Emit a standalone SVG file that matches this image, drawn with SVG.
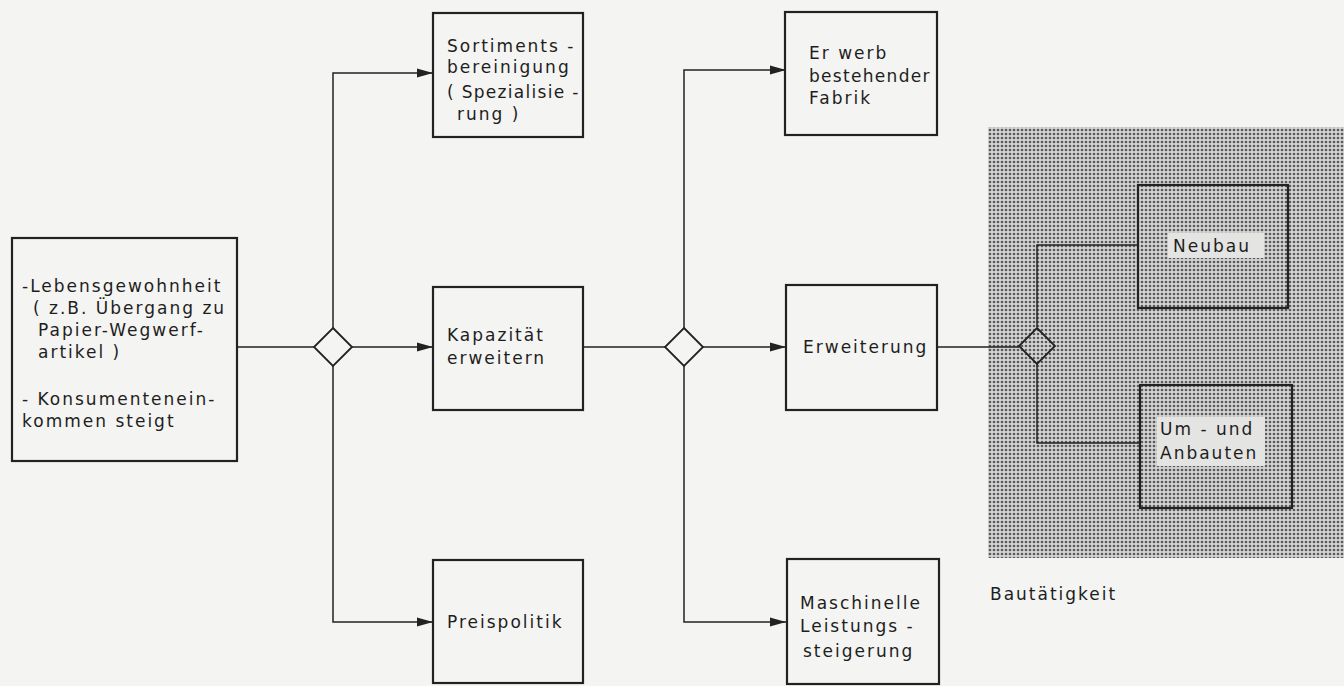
<svg xmlns="http://www.w3.org/2000/svg" width="1344" height="686" viewBox="0 0 1344 686">
<style>
.box{fill:none;stroke:#222;stroke-width:2.2}
.dia{fill:#f4f4f2;stroke:#222;stroke-width:1.8}
.con{fill:none;stroke:#222;stroke-width:1.5}
.hl{fill:#e4e4e2}
.tight{letter-spacing:1.3px}
text{font-family:"DejaVu Sans","Liberation Sans",sans-serif;font-size:17px;fill:#1e1e1e;letter-spacing:2px}
</style>
<defs>
<marker id="arr" viewBox="0 0 16 10" refX="16" refY="5" markerWidth="16" markerHeight="10" markerUnits="userSpaceOnUse" orient="auto">
<path d="M0,0.5 L16,5 L0,9.5 Z" fill="#222"/>
</marker>
<pattern id="dots" width="4" height="4" patternUnits="userSpaceOnUse">
<rect width="4" height="4" fill="#d4d4d4"/>
<circle cx="2" cy="2" r="1.35" fill="#5a5a5a"/>
</pattern>
</defs>
<rect width="1344" height="686" fill="#f4f4f2"/>
<rect id="bautaetigkeit-area" x="988" y="127" width="356" height="431" fill="url(#dots)"/>

<g id="connectors">
<line class="con" x1="237" y1="347" x2="314" y2="347"/>
<line class="con" x1="352" y1="347" x2="433" y2="347" marker-end="url(#arr)"/>
<polyline class="con" points="333,328 333,73 433,73" marker-end="url(#arr)"/>
<polyline class="con" points="333,366 333,622 433,622" marker-end="url(#arr)"/>
<line class="con" x1="583" y1="347" x2="665" y2="347"/>
<line class="con" x1="703" y1="347" x2="786" y2="347" marker-end="url(#arr)"/>
<polyline class="con" points="684,328 684,70 786,70" marker-end="url(#arr)"/>
<polyline class="con" points="684,366 684,622 786,622" marker-end="url(#arr)"/>
<line class="con" x1="937" y1="347" x2="1019" y2="347"/>
<polyline class="con" points="1037,327 1037,245 1138,245"/>
<polyline class="con" points="1037,364 1037,443 1140,443"/>
</g>

<g id="decision1"><polygon class="dia" points="333,328 352,347 333,366 314,347"/></g>
<g id="decision2"><polygon class="dia" points="684,328 703,347 684,366 665,347"/></g>
<g id="decision3"><polygon class="dia" points="1037,328 1055,346 1037,364 1019,346" style="fill:url(#dots)"/></g>

<g id="ursachen">
<rect class="box" x="12" y="238" width="225" height="223"/>
<text x="22" y="292">-Lebensgewohnheit</text>
<text x="33" y="314">( z.B. Übergang zu</text>
<text x="38" y="336">Papier-Wegwerf-</text>
<text x="38" y="358">artikel )</text>
<text x="22" y="405">- Konsumentenein-</text>
<text x="22" y="427">kommen  steigt</text>
</g>

<g id="sortiment">
<rect class="box" x="433" y="13" width="150" height="124"/>
<text x="447" y="52">Sortiments -</text>
<text x="447" y="73">bereinigung</text>
<text class="tight" x="447" y="98">( Spezialisie -</text>
<text x="457" y="120">rung )</text>
</g>

<g id="kapazitaet">
<rect class="box" x="433" y="287" width="150" height="123"/>
<text x="447" y="341">Kapazität</text>
<text x="447" y="364">erweitern</text>
</g>

<g id="preispolitik">
<rect class="box" x="433" y="560" width="150" height="123"/>
<text x="447" y="628">Preispolitik</text>
</g>

<g id="erwerb">
<rect class="box" x="785" y="12" width="152" height="123"/>
<text x="809" y="59">Er werb</text>
<text class="tight" x="809" y="82">bestehender</text>
<text x="809" y="104">Fabrik</text>
</g>

<g id="erweiterung">
<rect class="box" x="786" y="285" width="151" height="125"/>
<text x="803" y="353">Erweiterung</text>
</g>

<g id="maschinelle">
<rect class="box" x="787" y="559" width="152" height="125"/>
<text x="800" y="609">Maschinelle</text>
<text x="800" y="632">Leistungs -</text>
<text x="803" y="657">steigerung</text>
</g>

<g id="neubau">
<rect class="box" x="1138" y="185" width="150" height="123"/>
<rect class="hl" x="1168" y="233" width="96" height="25"/>
<text x="1173" y="252">Neubau</text>
</g>

<g id="umbauten">
<rect class="box" x="1140" y="385" width="152" height="123"/>
<rect class="hl" x="1157" y="417" width="108" height="49"/>
<text x="1160" y="435">Um -  und</text>
<text x="1160" y="459">Anbauten</text>
</g>

<text x="990" y="600">Bautätigkeit</text>
</svg>
